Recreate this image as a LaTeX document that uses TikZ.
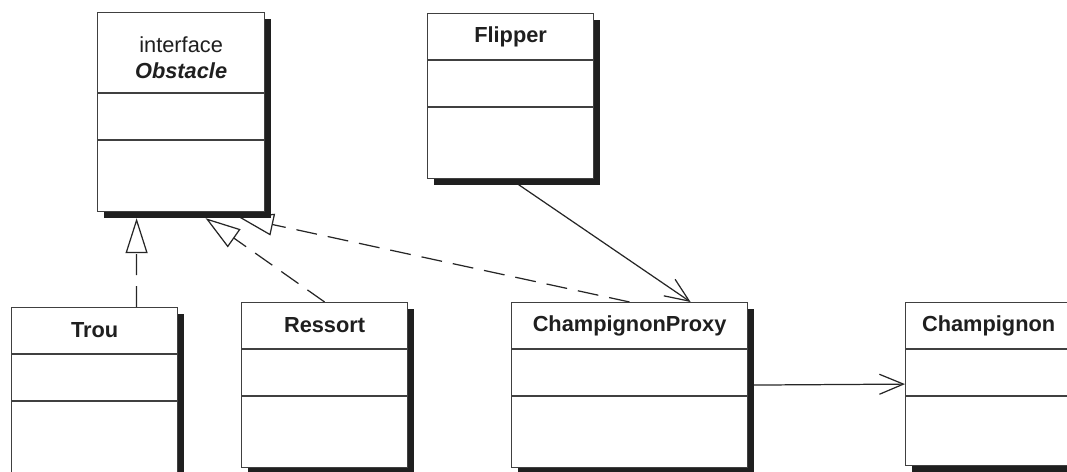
\documentclass[tikz,border=0pt]{standalone}
\usepackage{fontspec}
\setmainfont{Liberation Sans}
\usetikzlibrary{arrows.meta,calc,shadows,backgrounds}

\tikzset{
    classbox/.style 2 args={
        draw=black!75,
        line width=0.7pt,
        fill=white,
        minimum width=#1,
        minimum height=#2,
        anchor=north west,
        inner sep=0pt,
        drop shadow={shadow xshift=0.13cm, shadow yshift=-0.13cm,
                     fill=black!88, opacity=1}
    },
    classname/.style={
        font=\fontsize{12.4}{14.6}\selectfont\bfseries,
        text=black!88
    },
    compline/.style={
        draw=black!75,
        line width=0.7pt
    },
    realize/.style={
        line width=0.7pt,
        draw=black!85,
        dash pattern=on 0.42cm off 0.22cm,
        -{Triangle[open, length=0.7cm, width=0.44cm, fill=white]}
    },
    assoc/.style={
        line width=0.7pt,
        draw=black!85,
        -{Straight Barb[length=0.48cm, width=0.4cm]}
    }
}

\begin{document}
\begin{tikzpicture}[x=0.02cm, y=-0.02cm]

\useasboundingbox (0,0) rectangle (1067,472);

% ---------------- CLASSES ----------------

\node[classbox={3.34cm}{3.98cm}] (obstacle) at (97,12) {};
\node[classbox={3.32cm}{3.3cm}] (flipper) at (427,13) {};
\node[classbox={3.32cm}{3.46cm}] (trou) at (11,307) {};
\node[classbox={3.32cm}{3.3cm}] (ressort) at (241,302) {};
\node[classbox={4.72cm}{3.3cm}] (proxy) at (511,302) {};
\node[classbox={3.32cm}{3.26cm}] (champignon) at (905,302) {};


% ---------------- COMPARTIMENTS ----------------

\draw[compline] ($(obstacle.north west)+(0,81)$) -- ($(obstacle.north east)+(0,81)$);
\draw[compline] ($(obstacle.north west)+(0,128)$) -- ($(obstacle.north east)+(0,128)$);

\foreach \c in {flipper,trou,ressort,proxy,champignon}{
    \draw[compline] ($(\c.north west)+(0,47)$) -- ($(\c.north east)+(0,47)$);
    \draw[compline] ($(\c.north west)+(0,94)$) -- ($(\c.north east)+(0,94)$);
}


% ---------------- NOMS ----------------

\node[classname, font=\fontsize{12.4}{14.6}\selectfont, align=center]
    (obstacletitle) at ($(obstacle.north)+(0,45.5)$)
    {interface\\\textbf{\textit{Obstacle}}};

\node[classname] (fliptitle) at ($(flipper.north)+(0,23.5)$) {Flipper};
\node[classname] (troutitle) at ($(trou.north)+(0,23.5)$) {Trou};
\node[classname] (ressorttitle) at ($(ressort.north)+(0,23.5)$) {Ressort};
\node[classname] (proxytitle) at ($(proxy.north)+(0,23.5)$) {ChampignonProxy};
\node[classname] (champtitle) at ($(champignon.north)+(0,23.5)$) {Champignon};


% ---------------- RELATIONS ----------------

\begin{pgfonlayer}{background}

\draw[realize] ($(trou.north)+(42,0)$) -- ($(obstacle.south)+(-44.5,6)$);
\draw[realize] (ressort.north) -- ($(obstacle.south)+(24.5,6)$);
\draw[realize] (proxy.north) -- ($(obstacle.south)+(57.5,5)$);

\draw[assoc] (flipper.south) -- ($(proxy.north)+(61,0)$);
\draw[assoc] (proxy.east) -- (champignon.west);

\end{pgfonlayer}

\end{tikzpicture}
\end{document}
